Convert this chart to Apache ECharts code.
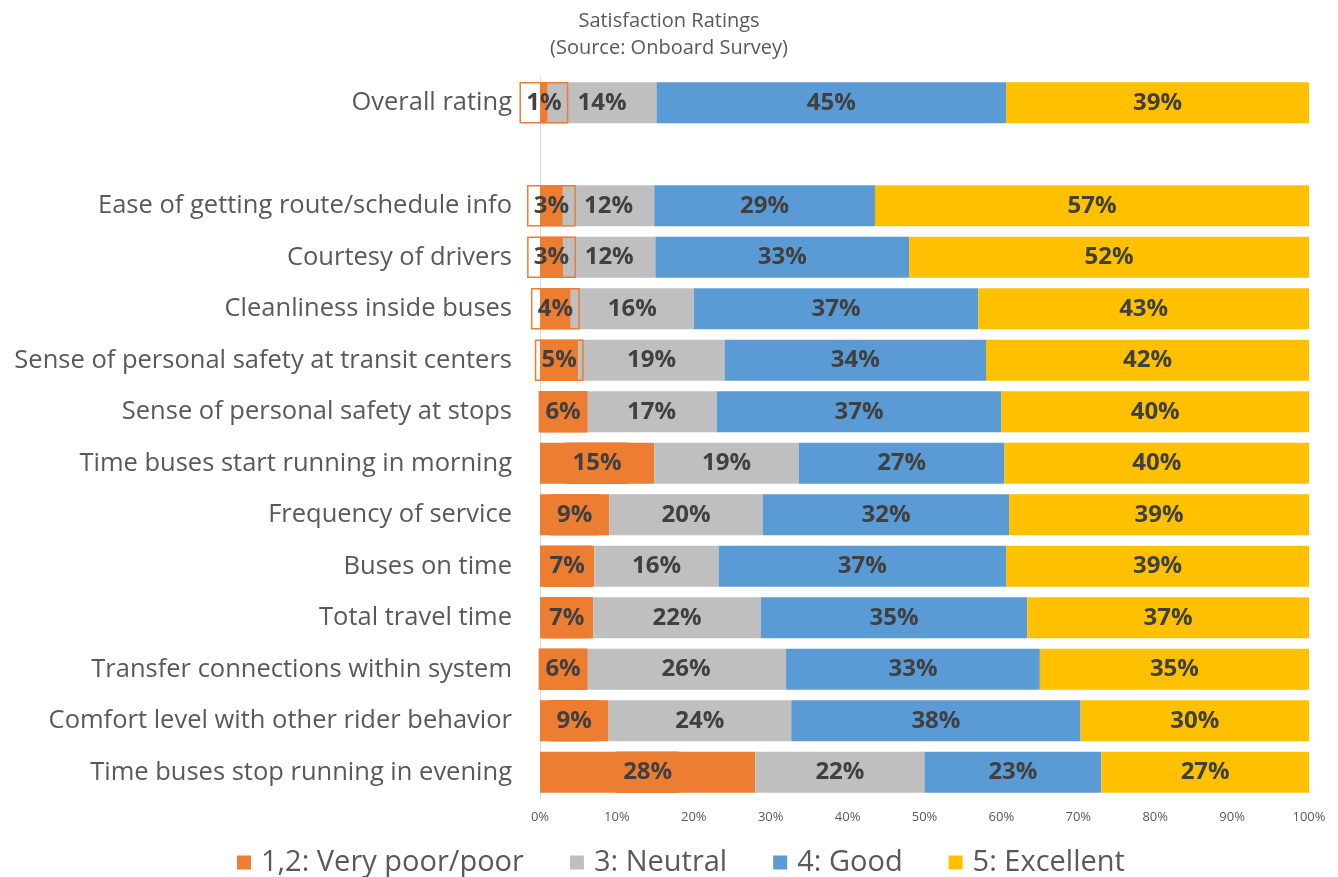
<!DOCTYPE html>
<html>
<head>
<meta charset="utf-8">
<script src="https://cdn.jsdelivr.net/npm/echarts@6/dist/echarts.min.js"></script>
<style>
  html, body { margin: 0; padding: 0; background: #fff; }
  #chart { width: 1338px; height: 877px; }
</style>
</head>
<body>
<div id="chart"></div>
<script>
// Survey questions, top to bottom ('' leaves a gap under the overall rating)
const categories = [
  'Overall rating',
  '',
  'Ease of getting route/schedule info',
  'Courtesy of drivers',
  'Cleanliness inside buses',
  'Sense of personal safety at transit centers',
  'Sense of personal safety at stops',
  'Time buses start running in morning',
  'Frequency of service',
  'Buses on time',
  'Total travel time',
  'Transfer connections within system',
  'Comfort level with other rider behavior',
  'Time buses stop running in evening'
];

// Share of respondents (%) per rating group
const veryPoorPoor = [1, null, 3, 3, 4, 5, 6, 15, 9, 7, 7, 6, 9, 28];
const neutral      = [14, null, 12, 12, 16, 19, 17, 19, 20, 16, 22, 26, 24, 22];
const good         = [45, null, 29, 33, 37, 34, 37, 27, 32, 37, 35, 33, 38, 23];
const excellent    = [39, null, 57, 52, 43, 42, 40, 40, 39, 39, 37, 35, 30, 27];

const seriesNames = ['1,2: Very poor/poor', '3: Neutral', '4: Good', '5: Excellent'];
const seriesColors = ['#ED7D31', '#BFBFBF', '#5B9BD5', '#FFC000'];
const xTicks = [0, 10, 20, 30, 40, 50, 60, 70, 80, 90, 100];

const groups = [veryPoorPoor, neutral, good, excellent];

// 100% stacked: each row is scaled to its own total, labels keep the surveyed value
const rowTotals = categories.map((_, i) =>
  groups.reduce((s, g) => s + (g[i] == null ? 0 : g[i]), 0));

const FONT = '"Open Sans", "DejaVu Sans", sans-serif';

const series = groups.map((g, k) => {
  const label = {
    show: true,
    position: 'inside',
    fontFamily: FONT,
    fontSize: 24,
    fontWeight: 'bold',
    lineHeight: 28,
    color: '#404040',
    formatter: p => (p.data && p.data.raw != null) ? p.data.raw + '%' : ''
  };
  if (k === 0) {
    Object.assign(label, {
      borderColor: '#ED7D31',
      borderWidth: 1.5,
      padding: [6, 6, 6, 6]
    });
  }
  return {
    name: seriesNames[k],
    type: 'bar',
    stack: 'share',
    barWidth: 41,
    itemStyle: { color: seriesColors[k] },
    label: label,
    emphasis: { disabled: true },
    data: g.map((v, i) => v == null ? { value: null, raw: null }
                                    : { value: v / rowTotals[i] * 100, raw: v })
  };
});

const chart = echarts.init(document.getElementById('chart'), null, { renderer: 'canvas' });
chart.setOption({
  animation: false,
  backgroundColor: '#ffffff',
  title: {
    text: 'Satisfaction Ratings\n(Source: Onboard Survey)',
    left: 'center',
    top: 3,
    textStyle: {
      fontFamily: FONT,
      fontSize: 20,
      fontWeight: 'normal',
      color: '#595959',
      lineHeight: 27,
      align: 'center'
    }
  },
  legend: {
    data: seriesNames,
    top: 843,
    left: 232,
    padding: [5, 5, 5, 5],
    icon: 'rect',
    itemWidth: 14,
    itemHeight: 14,
    itemGap: 46,
    selectedMode: false,
    textStyle: { fontFamily: FONT, fontSize: 29, color: '#595959', padding: [0, 0, 0, 5] }
  },
  grid: { left: 540, right: 29, top: 77, bottom: 79, containLabel: false },
  xAxis: {
    type: 'value',
    min: xTicks[0],
    max: xTicks[xTicks.length - 1],
    interval: 10,
    axisLine: { show: false },
    axisTick: { show: false },
    splitLine: { show: false },
    axisLabel: {
      formatter: '{value}%',
      fontFamily: FONT,
      fontSize: 13,
      color: '#595959',
      margin: 13
    }
  },
  yAxis: {
    type: 'category',
    inverse: true,
    data: categories,
    axisLine: { show: true, lineStyle: { color: '#D9D9D9', width: 1 } },
    axisTick: { show: false },
    axisLabel: {
      fontFamily: FONT,
      fontSize: 25.5,
      color: '#595959',
      margin: 28
    }
  },
  series: series
});
</script>
</body>
</html>
